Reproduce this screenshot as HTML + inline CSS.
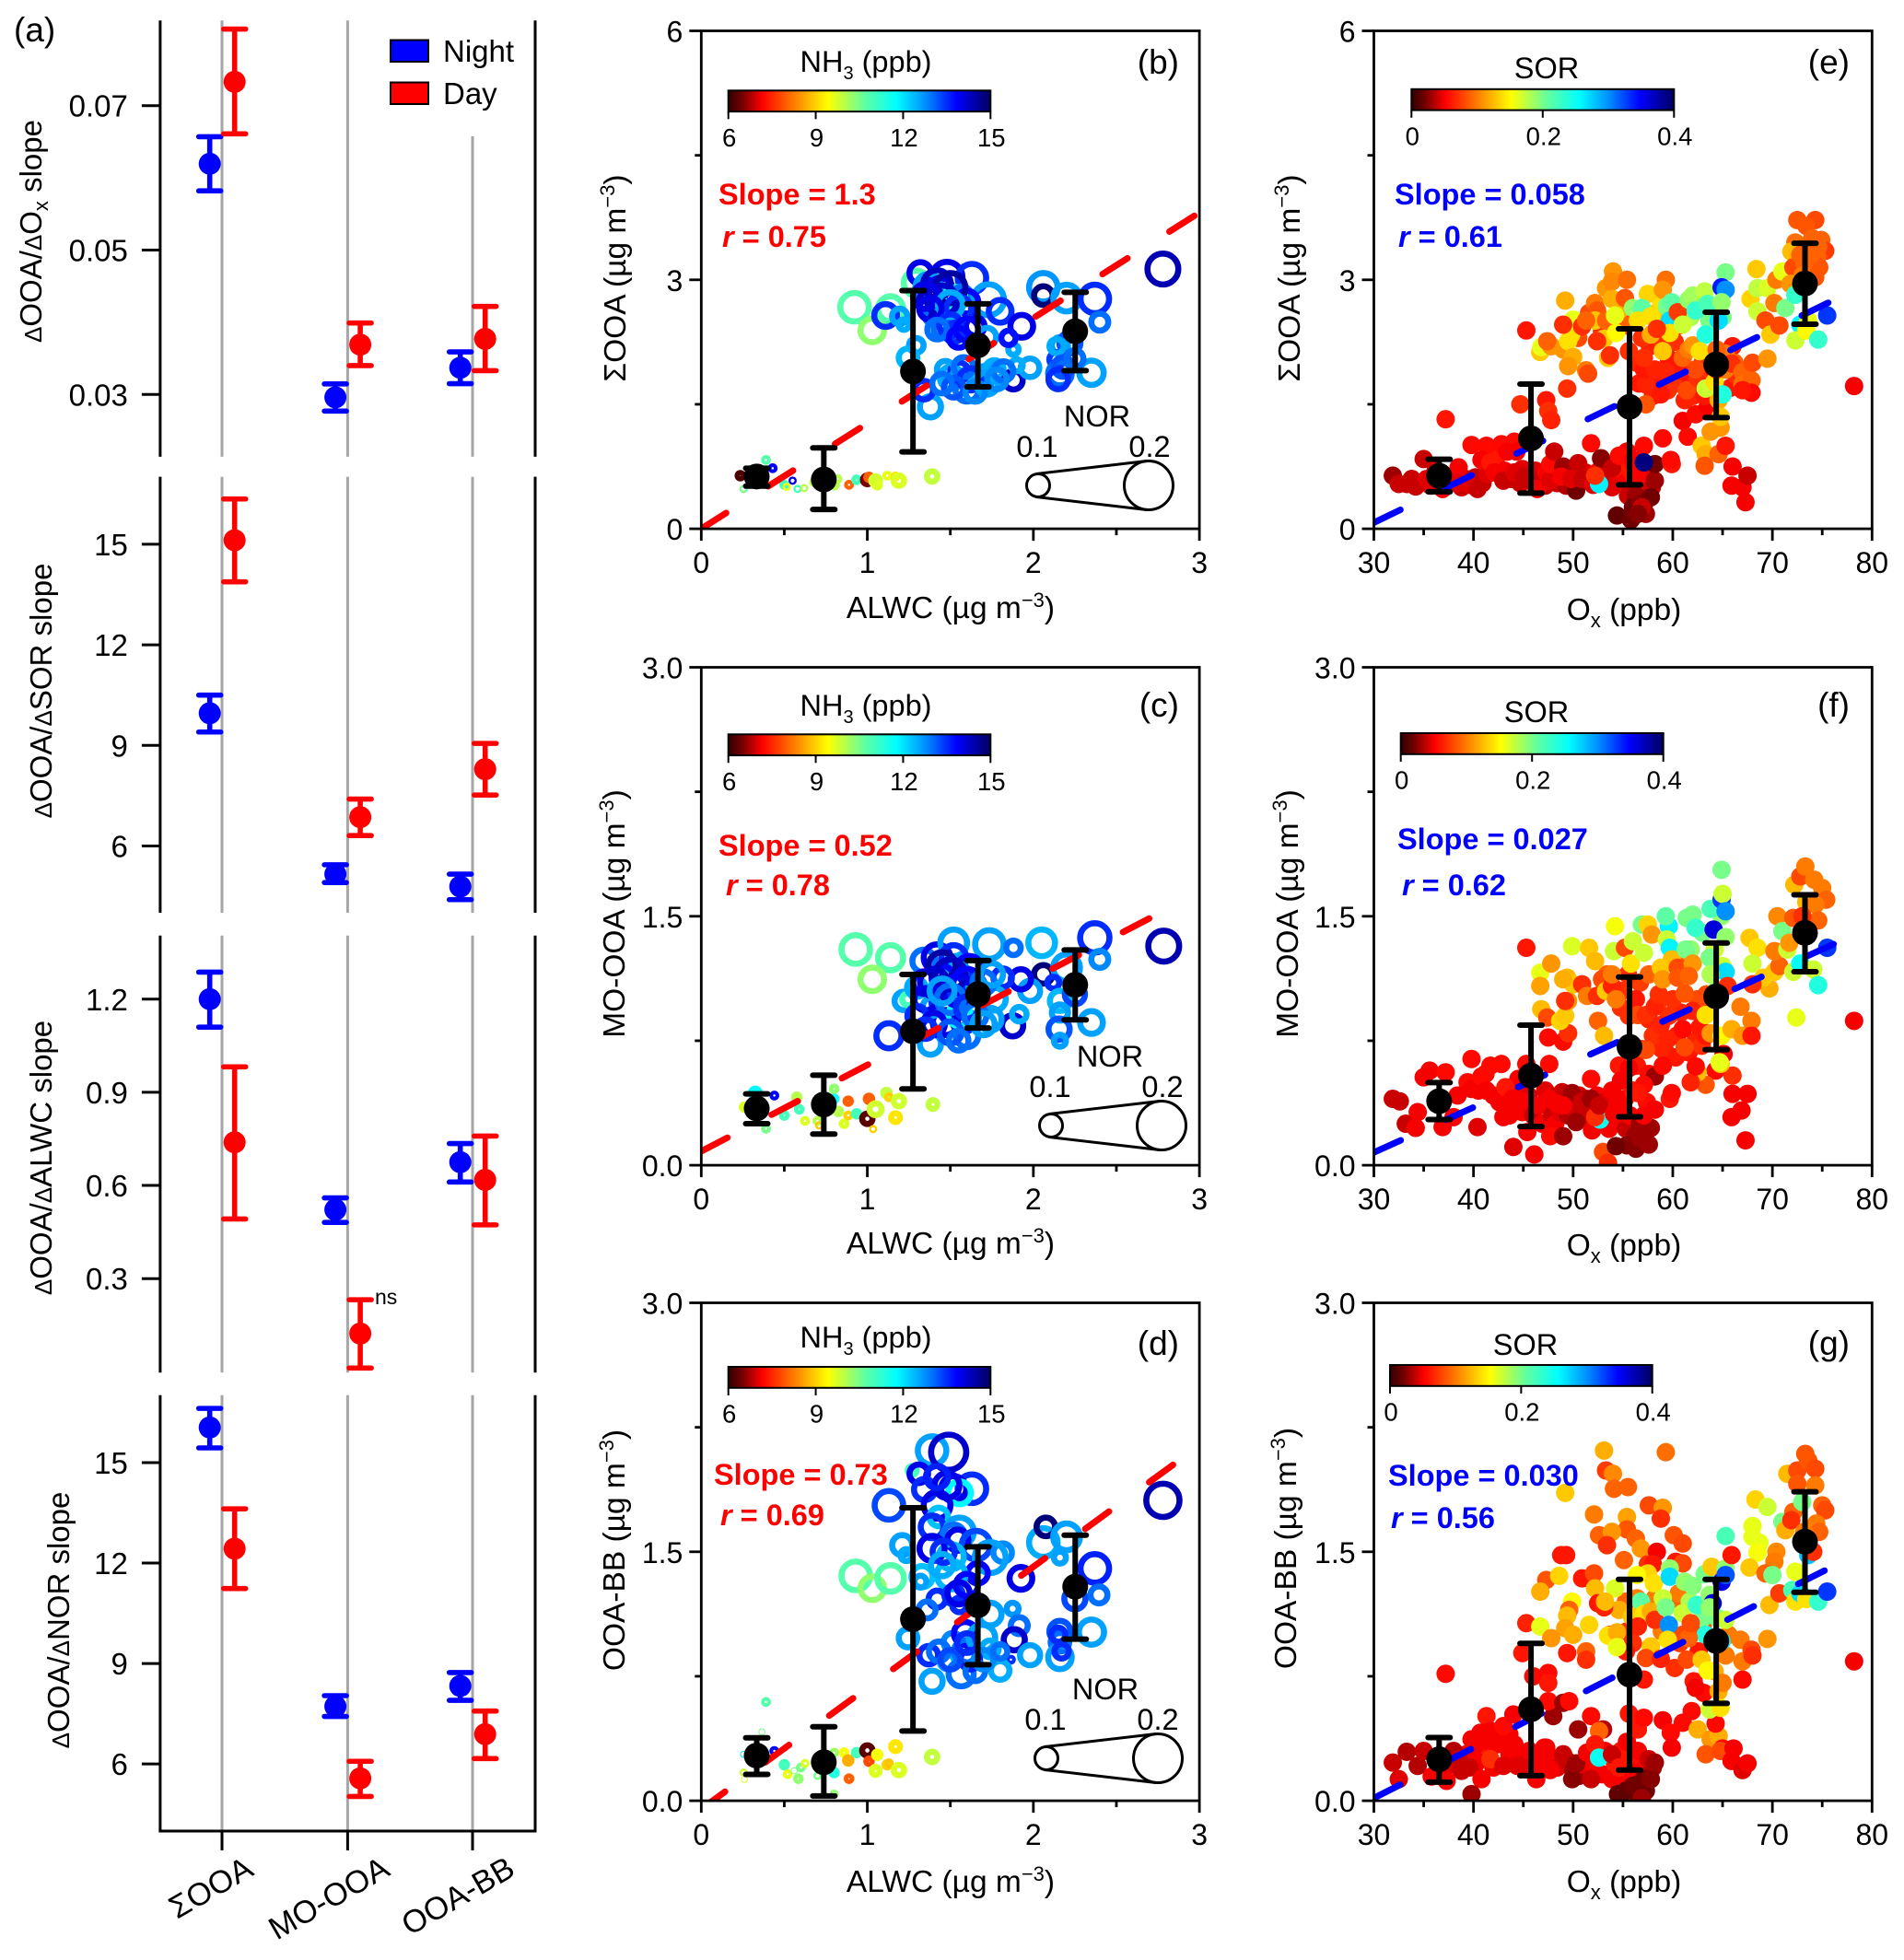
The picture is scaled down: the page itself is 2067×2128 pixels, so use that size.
<!DOCTYPE html>
<html lang="en">
<head>
<meta charset="utf-8">
<title>OOA slopes and scatter panels</title>
<style>
html,body{margin:0;padding:0;background:#fff;}
svg{display:block;font-family:"Liberation Sans",sans-serif;fill:#000;}
.ttl{font-size:32.5px;}
.tag{font-size:37px;text-anchor:end;}
.lab{font-size:32.5px;text-anchor:middle;}
.slope{font-size:32.5px;font-weight:bold;}
.yt{font-size:33.5px;text-anchor:middle;}
.ya{font-size:33px;text-anchor:middle;}
</style>
</head>
<body>
<svg id="fig" xmlns="http://www.w3.org/2000/svg" width="2067" height="2128" viewBox="0 0 2067 2128">
<defs>
<linearGradient id="jetGrad" x1="0" x2="1" y1="0" y2="0">
<stop offset="0" stop-color="#300000"/><stop offset=".05" stop-color="#700000"/><stop offset=".13" stop-color="#ff0000"/><stop offset=".27" stop-color="#ff9000"/><stop offset=".38" stop-color="#ffff00"/><stop offset=".52" stop-color="#60ffa0"/><stop offset=".64" stop-color="#00ffff"/><stop offset=".75" stop-color="#0090ff"/><stop offset=".87" stop-color="#0000ff"/><stop offset="1" stop-color="#000060"/>
</linearGradient>
<clipPath id="clipB"><rect x="761.3" y="33.5" width="540.8" height="540.8"/></clipPath>
<clipPath id="clipC"><rect x="761.3" y="724.5" width="540.8" height="540.4"/></clipPath>
<clipPath id="clipD"><rect x="761.3" y="1414.5" width="540.8" height="540.5"/></clipPath>
<clipPath id="clipE"><rect x="1491.5" y="33.5" width="540.8" height="540.8"/></clipPath>
<clipPath id="clipF"><rect x="1491.5" y="724.5" width="540.8" height="540.4"/></clipPath>
<clipPath id="clipG"><rect x="1491.5" y="1414.5" width="540.8" height="540.5"/></clipPath>
</defs>
<rect x="0" y="0" width="2067" height="2128" fill="#fff"/>

<g id="layerA"></g>
<g id="layerScatter"></g>

<text x="15" y="45" style="font-size:37px">(a)</text>
<rect x="424" y="43.5" width="41" height="23.5" fill="#0000ff" stroke="#000" stroke-width="2"/>
<text x="481" y="67" style="font-size:33px">Night</text>
<rect x="424" y="89.5" width="41" height="23.5" fill="#ff0000" stroke="#000" stroke-width="2"/>
<text x="481" y="113" style="font-size:33px">Day</text>
<text x="407" y="1416" style="font-size:23px">ns</text>

<text transform="translate(45,251) rotate(-90)" class="ya"><tspan font-size="26">Δ</tspan>OOA/<tspan font-size="26">Δ</tspan>O<tspan font-size="22" dy="7">x</tspan><tspan dy="-7"> slope</tspan></text>
<text transform="translate(56,750) rotate(-90)" class="ya"><tspan font-size="26">Δ</tspan>OOA/<tspan font-size="26">Δ</tspan>SOR slope</text>
<text transform="translate(56,1257) rotate(-90)" class="ya"><tspan font-size="26">Δ</tspan>OOA/<tspan font-size="26">Δ</tspan>ALWC slope</text>
<text transform="translate(75,1759) rotate(-90)" class="ya"><tspan font-size="26">Δ</tspan>OOA/<tspan font-size="26">Δ</tspan>NOR slope</text>

<!-- scatter titles -->
<text x="1032" y="671" class="yt">ALWC (µg m<tspan font-size="22" dy="-12">−3</tspan><tspan dy="12">)</tspan></text>
<text x="1032" y="1361" class="yt">ALWC (µg m<tspan font-size="22" dy="-12">−3</tspan><tspan dy="12">)</tspan></text>
<text x="1032" y="2054" class="yt">ALWC (µg m<tspan font-size="22" dy="-12">−3</tspan><tspan dy="12">)</tspan></text>
<text x="1763" y="673" class="yt">O<tspan font-size="22" dy="8">x</tspan><tspan dy="-8"> (ppb)</tspan></text>
<text x="1763" y="1363" class="yt">O<tspan font-size="22" dy="8">x</tspan><tspan dy="-8"> (ppb)</tspan></text>
<text x="1763" y="2054" class="yt">O<tspan font-size="22" dy="8">x</tspan><tspan dy="-8"> (ppb)</tspan></text>

<text transform="translate(679,302) rotate(-90)" class="yt">ΣOOA (µg m<tspan font-size="22" dy="-12">−3</tspan><tspan dy="12">)</tspan></text>
<text transform="translate(678,992) rotate(-90)" class="yt">MO-OOA (µg m<tspan font-size="22" dy="-12">−3</tspan><tspan dy="12">)</tspan></text>
<text transform="translate(678,1683) rotate(-90)" class="yt">OOA-BB (µg m<tspan font-size="22" dy="-12">−3</tspan><tspan dy="12">)</tspan></text>
<text transform="translate(1411,302) rotate(-90)" class="yt">ΣOOA (µg m<tspan font-size="22" dy="-12">−3</tspan><tspan dy="12">)</tspan></text>
<text transform="translate(1409,992) rotate(-90)" class="yt">MO-OOA (µg m<tspan font-size="22" dy="-12">−3</tspan><tspan dy="12">)</tspan></text>
<text transform="translate(1407,1681) rotate(-90)" class="yt">OOA-BB (µg m<tspan font-size="22" dy="-12">−3</tspan><tspan dy="12">)</tspan></text>

<!-- panel tags -->
<text x="1280" y="80" class="tag">(b)</text>
<text x="1280" y="778" class="tag">(c)</text>
<text x="1280" y="1471" class="tag">(d)</text>
<text x="2008" y="80" class="tag">(e)</text>
<text x="2008" y="778" class="tag">(f)</text>
<text x="2008" y="1471" class="tag">(g)</text>

<!-- colour bar titles -->
<text x="940" y="78" class="lab">NH<tspan font-size="20" dy="8">3</tspan><tspan dy="-8"> (ppb)</tspan></text>
<text x="940" y="777" class="lab">NH<tspan font-size="20" dy="8">3</tspan><tspan dy="-8"> (ppb)</tspan></text>
<text x="940" y="1463" class="lab">NH<tspan font-size="20" dy="8">3</tspan><tspan dy="-8"> (ppb)</tspan></text>
<text x="1679" y="85" class="lab">SOR</text>
<text x="1668" y="784" class="lab">SOR</text>
<text x="1656" y="1471" class="lab">SOR</text>

<!-- annotations -->
<text x="780" y="222" class="slope" style="fill:#ff0000">Slope = 1.3</text>
<text x="784" y="268" class="slope" style="fill:#ff0000"><tspan font-style="italic">r</tspan> = 0.75</text>
<text x="780" y="929" class="slope" style="fill:#ff0000">Slope = 0.52</text>
<text x="788" y="972" class="slope" style="fill:#ff0000"><tspan font-style="italic">r</tspan> = 0.78</text>
<text x="775" y="1612" class="slope" style="fill:#ff0000">Slope = 0.73</text>
<text x="782" y="1656" class="slope" style="fill:#ff0000"><tspan font-style="italic">r</tspan> = 0.69</text>
<text x="1514" y="222" class="slope" style="fill:#0000ff">Slope = 0.058</text>
<text x="1518" y="268" class="slope" style="fill:#0000ff"><tspan font-style="italic">r</tspan> = 0.61</text>
<text x="1517" y="922" class="slope" style="fill:#0000ff">Slope = 0.027</text>
<text x="1522" y="972" class="slope" style="fill:#0000ff"><tspan font-style="italic">r</tspan> = 0.62</text>
<text x="1507" y="1613" class="slope" style="fill:#0000ff">Slope = 0.030</text>
<text x="1510" y="1659" class="slope" style="fill:#0000ff"><tspan font-style="italic">r</tspan> = 0.56</text>

<!-- NOR size keys -->
<g fill="none" stroke="#000" stroke-width="3">
<circle cx="1127" cy="527" r="12.5"/><circle cx="1247" cy="527" r="26.5"/><line x1="1125" y1="514.5" x2="1245" y2="500.5"/><line x1="1125" y1="539.5" x2="1245" y2="553.5"/>
</g>
<text x="1191" y="463" class="ttl" text-anchor="middle">NOR</text>
<text x="1126" y="496" class="ttl" text-anchor="middle">0.1</text>
<text x="1248" y="496" class="ttl" text-anchor="middle">0.2</text>

<g fill="none" stroke="#000" stroke-width="3">
<circle cx="1141" cy="1222" r="12.5"/><circle cx="1261" cy="1222" r="26.5"/><line x1="1139" y1="1209.5" x2="1259" y2="1195.5"/><line x1="1139" y1="1234.5" x2="1259" y2="1248.5"/>
</g>
<text x="1205" y="1158" class="ttl" text-anchor="middle">NOR</text>
<text x="1140" y="1191" class="ttl" text-anchor="middle">0.1</text>
<text x="1262" y="1191" class="ttl" text-anchor="middle">0.2</text>

<g fill="none" stroke="#000" stroke-width="3">
<circle cx="1136" cy="1909" r="12.5"/><circle cx="1257" cy="1909" r="26.5"/><line x1="1134" y1="1896.5" x2="1255" y2="1882.5"/><line x1="1134" y1="1921.5" x2="1255" y2="1935.5"/>
</g>
<text x="1200" y="1845" class="ttl" text-anchor="middle">NOR</text>
<text x="1135" y="1878" class="ttl" text-anchor="middle">0.1</text>
<text x="1257" y="1878" class="ttl" text-anchor="middle">0.2</text>
</svg>

<script>
/* ---------- panel (a) values ---------- */
const slopeCategories = ['ΣOOA', 'MO-OOA', 'OOA-BB'];
const a1TickLabels = ['0.03', '0.05', '0.07'];
const a2TickLabels = ['6', '9', '12', '15'];
const a3TickLabels = ['0.3', '0.6', '0.9', '1.2'];
const a4TickLabels = ['6', '9', '12', '15'];

const a1Night = [0.06195, 0.0296, 0.0337];
const a1NightHi = [0.0657, 0.03146, 0.0359];
const a1NightLo = [0.0582, 0.0277, 0.0315];
const a1Day = [0.0733, 0.0369, 0.0377];
const a1DayHi = [0.0806, 0.0399, 0.0422];
const a1DayLo = [0.0661, 0.034, 0.0333];

const a2Night = [9.96, 5.16, 4.79];
const a2NightHi = [10.5, 5.44, 5.16];
const a2NightLo = [9.4, 4.91, 4.4];
const a2Day = [15.12, 6.86, 8.29];
const a2DayHi = [16.35, 7.4, 9.06];
const a2DayLo = [13.88, 6.31, 7.52];

const a3Night = [1.2, 0.522, 0.675];
const a3NightHi = [1.287, 0.56, 0.735];
const a3NightLo = [1.11, 0.481, 0.611];
const a3Day = [0.739, 0.123, 0.618];
const a3DayHi = [0.982, 0.232, 0.759];
const a3DayLo = [0.492, 0.012, 0.473];

const a4Night = [16.05, 7.72, 8.33];
const a4NightHi = [16.62, 8.04, 8.73];
const a4NightLo = [15.44, 7.42, 7.9];
const a4Day = [12.43, 5.57, 6.89];
const a4DayHi = [13.62, 6.08, 7.58];
const a4DayLo = [11.24, 5.03, 6.16];

/* ---------- binned means ---------- */
const alwcBins = [0.334, 0.738, 1.275, 1.666, 2.252];
const bMean = [0.63, 0.594, 1.896, 2.21, 2.38];
const bHi = [0.73, 0.975, 2.87, 2.71, 2.85];
const bLo = [0.515, 0.233, 0.926, 1.71, 1.906];
const cMean = [0.342, 0.366, 0.807, 1.03, 1.087];
const cHi = [0.43, 0.542, 1.149, 1.233, 1.297];
const cLo = [0.25, 0.188, 0.46, 0.827, 0.876];
const dMean = [0.272, 0.232, 1.094, 1.178, 1.29];
const dHi = [0.379, 0.446, 1.765, 1.53, 1.6];
const dLo = [0.159, 0.029, 0.42, 0.82, 0.974];

const oxBins = [36.55, 45.77, 55.66, 64.36, 73.27];
const eMean = [0.639, 1.089, 1.47, 1.98, 2.955];
const eHi = [0.837, 1.743, 2.41, 2.61, 3.44];
const eLo = [0.446, 0.43, 0.53, 1.34, 2.465];
const fMean = [0.386, 0.54, 0.713, 1.017, 1.4];
const fHi = [0.498, 0.844, 1.134, 1.339, 1.629];
const fLo = [0.275, 0.233, 0.292, 0.696, 1.166];
const gMean = [0.25, 0.551, 0.76, 0.963, 1.561];
const gHi = [0.381, 0.948, 1.334, 1.334, 1.862];
const gLo = [0.112, 0.151, 0.185, 0.587, 1.256];

/* ---------- trend fits: intercept, slope, x end ---------- */
const bTrend = [0, 1.27, 3];
const cTrend = [0.084, 0.52, 2.77];
const dTrend = [-0.05, 0.73, 2.91];
const eTrend = [-1.669, 0.0581, 76.9];
const fTrend = [-0.739, 0.0272, 77.5];
const gTrend = [-0.893, 0.0303, 76.5];

/* ---------- scatter: ALWC, OOA, NH3, NOR ---------- */
const bPoints = [
[.235,.64,6.2,.056],[.43,.73,13.8,.05],[.39,.83,10.8,.05],[.255,.48,10.5,.044],[.305,.65,12.6,.06],[.50,.53,11,.05],[.55,.58,14,.044],[.58,.48,11,.044],[.62,.49,10,.044],[.515,.505,9.5,.044],[.80,.53,10,.056],[.89,.53,8,.05],[.935,.59,11,.053],[1.0,.59,6.5,.069],[1.01,.62,8,.056],[1.05,.58,9.8,.069],[1.06,.53,9.7,.056],[1.12,.64,9.6,.05],[1.17,.63,9.2,.05],[1.19,.58,9.7,.075],[1.39,.63,9.9,.075],[.82,.60,10,.05],[.68,.56,10,.05],
[.923,2.67,10.8,.144],[1.03,2.39,10.3,.125],[1.14,2.65,10.8,.131],[1.11,2.57,13.5,.122],[1.195,2.56,12.6,.094],[1.22,2.46,12.5,.075],[1.295,2.96,10.8,.131],[1.32,3.08,14,.119],[1.48,3.03,14,.153],[1.63,3.02,13.5,.144],[1.37,2.91,12.6,.137],[1.39,2.73,14.3,.137],[1.44,2.86,14,.137],[1.53,2.78,11.5,.122],[1.57,2.81,13,.106],[1.73,2.76,12.6,.153],[1.80,2.62,13.5,.122],[1.60,2.73,13.8,.122],[1.455,2.41,13,.106],[1.52,2.36,13.5,.106],[1.39,2.56,13,.091],[1.65,2.44,14,.106],[1.93,2.44,14,.122],[1.88,2.16,12.5,.075],[1.72,2.31,12.6,.106],[1.295,2.21,12.6,.091],[1.245,2.06,12.4,.106],[1.38,1.47,12.6,.116],[1.34,1.67,13.5,.106],[1.505,1.82,12.5,.122],[1.60,1.67,13,.122],[1.555,1.89,13.5,.106],[1.47,1.92,12.6,.1],[1.69,1.82,12.6,.122],[1.74,1.82,12.6,.137],[1.765,1.92,12.5,.106],[1.88,1.79,14.2,.106],[1.98,1.94,12.6,.106],[1.90,1.97,12.5,.081],[2.06,2.91,12.7,.144],[2.06,2.81,14.8,.106],[2.20,2.78,12.6,.137],[2.37,2.77,13.5,.144],[2.40,2.49,13,.1],[2.16,2.21,12.6,.097],[2.22,2.24,13.2,.116],[2.14,2.04,13.4,.091],[2.16,1.87,13,.125],[2.35,1.88,12.6,.128],[2.78,3.13,14.4,.153],
[1.42,2.95,14.3,.14],[1.5,2.9,14.5,.15],[1.45,2.75,14.2,.15],[1.35,2.8,14,.13],[1.55,2.65,13.5,.13],[1.5,2.7,12.5,.13],[1.38,2.65,14,.12],[1.5,2.45,13.5,.12],[1.6,2.4,13.8,.12],[1.42,2.4,13,.11],[1.55,2.3,13.8,.11],[1.58,1.95,13,.11],[1.62,1.8,13.5,.12],[1.52,1.7,13.2,.11],[1.72,1.75,12.6,.12],[1.82,1.9,13,.11],[1.78,1.8,12.8,.11],[1.45,1.75,13,.11],[1.65,1.65,12.8,.11],[1.85,2.3,13.7,.09],[2.14,2.2,12.5,.09],[2.18,1.95,13.2,.11],[2.15,1.8,13.5,.11],[2.25,2.05,13,.1]
];
const cPoints = [
[.325,.435,11.8,.069],[.26,.35,9.7,.056],[.44,.42,13.8,.05],[.39,.22,10.5,.05],[.50,.30,11,.053],[.575,.41,10,.056],[.59,.337,11,.053],[.625,.267,9.7,.05],[.70,.267,10,.05],[.80,.46,10.3,.053],[.80,.40,11.7,.053],[.825,.324,10,.056],[.885,.386,8,.056],[.86,.25,9.7,.053],[.71,.24,8.9,.044],[.885,.30,9,.05],[.935,.31,11,.056],[1.01,.40,8,.06],[1.0,.28,6.3,.075],[1.05,.337,9.8,.081],[1.035,.218,9,.044],[1.115,.435,9.9,.06],[1.13,.41,9,.05],[1.19,.386,9.8,.075],[1.17,.287,9.2,.069],[1.395,.366,9.9,.069],
[.93,1.30,10.8,.144],[1.14,1.25,10.8,.131],[1.03,1.12,10.3,.125],[1.13,.78,13.5,.131],[1.38,.73,12.6,.116],[1.34,1.23,13,.122],[1.42,1.25,14,.137],[1.52,1.34,12.6,.137],[1.52,1.25,13.5,.131],[1.735,1.33,12.6,.144],[1.88,1.31,13,.091],[2.05,1.34,12.4,.137],[2.37,1.37,13.5,.147],[2.40,1.24,12.8,.1],[2.785,1.32,14.4,.153],[2.06,1.15,14.8,.106],[2.20,1.19,12.6,.137],[2.12,1.10,13.5,.081],[2.16,.99,12.4,.112],[2.25,1.03,13.3,.112],[2.16,.92,12.6,.097],[2.155,.82,13.2,.116],[2.16,.75,12.6,.081],[2.35,.86,12.6,.122],[1.875,.84,14.2,.116],[1.915,.91,12.5,.091],[1.98,1.05,12.6,.112],[1.925,1.12,14,.112],[1.815,1.13,13.5,.106],[1.765,1.00,12.5,.122],[1.74,.88,12.6,.122],[1.60,.78,13,.122],[1.58,.87,13.6,.122],[1.505,.94,12.6,.131],[1.47,.86,14,.131],[1.455,.98,13.5,.122],[1.22,.99,12.6,.106],[1.245,1.0,11,.081],[1.295,1.07,12.5,.106],[1.39,.955,12.6,.106],[1.345,1.10,14,.122],[1.52,1.08,14.5,.153],[1.545,1.14,12.6,.131],[1.615,1.18,13.8,.137],[1.64,1.08,13.5,.122],[1.455,1.13,13.8,.122],[1.555,.905,11.8,.122],
[1.45,1.2,14.5,.14],[1.5,1.15,14.3,.15],[1.55,1.05,14,.15],[1.4,1.1,14.2,.14],[1.35,1.0,14,.12],[1.6,1.1,13.8,.14],[1.5,1.0,13,.14],[1.45,1.05,12.6,.13],[1.7,1.1,13,.12],[1.75,1.15,12.6,.12],[1.6,.95,13.5,.12],[1.3,.9,13.5,.11],[1.4,.85,14,.12],[1.65,.9,13,.12],[1.7,.85,12.6,.12],[1.5,.8,13.2,.12],[1.55,.75,13,.11],[1.35,.82,13.5,.11]
];
const dPoints = [
[.39,.595,10.8,.05],[.365,.415,10.5,.0375],[.255,.28,12,.0375],[.44,.30,13.8,.05],[.255,.17,9.8,.044],[.26,.128,9.7,.0375],[.50,.217,11,.056],[.52,.16,9.6,.05],[.585,.133,10.3,.053],[.60,.20,10.5,.05],[.625,.225,9.7,.047],[.56,.18,10.5,.0375],[.70,.15,10.5,.044],[.80,.29,10.2,.05],[.80,.17,11.4,.056],[.80,.04,10.3,.047],[.86,.29,9.5,.053],[.885,.243,8.7,.06],[.89,.133,8,.053],[.935,.29,11,.056],[1.0,.303,6.3,.075],[1.01,.238,7.8,.056],[1.06,.277,9.5,.06],[1.05,.18,9.7,.066],[1.12,.217,9,.056],[1.13,.226,8.9,.05],[1.17,.326,9.2,.069],[1.19,.185,9.7,.075],[1.39,.264,9.9,.075],
[1.39,2.11,12.6,.144],[1.49,2.10,14.2,.169],[1.27,1.99,11,.069],[1.31,1.97,14,.106],[1.345,1.875,13.5,.116],[1.13,1.78,13.3,.144],[1.63,1.88,13.5,.144],[1.52,1.88,14,.131],[1.555,1.855,11.8,.122],[1.42,1.78,14,.137],[1.43,1.71,12.3,.106],[1.39,1.65,13.5,.122],[1.555,1.62,12.6,.144],[1.52,1.595,13,.122],[1.545,1.57,14,.116],[1.655,1.54,13.3,.144],[1.505,1.47,12.4,.131],[1.39,1.52,14,.131],[1.815,1.495,12.8,.106],[1.74,1.465,12.6,.153],[1.21,1.54,12.6,.112],[1.235,1.48,12.5,.081],[1.665,1.37,13.8,.112],[1.505,1.36,12.4,.144],[1.33,1.35,12.3,.116],[1.32,1.32,12.6,.081],[.93,1.355,10.8,.144],[1.03,1.28,10.3,.125],[1.14,1.34,10.8,.137],[1.42,1.215,13.5,.1],[1.52,1.24,13.5,.106],[1.555,1.18,13.5,.091],[1.925,1.34,14,.122],[2.06,1.556,12.5,.144],[2.075,1.65,14.8,.106],[2.20,1.59,12.6,.137],[2.16,1.465,12.6,.081],[2.37,1.40,13.6,.144],[2.25,1.217,13.3,.116],[2.395,1.24,13,.1],[1.875,1.157,12.7,.081],[1.915,1.055,13,.1],[1.885,.97,14.2,.116],[1.865,.85,13.5,.05],[1.98,.877,12.6,.112],[2.16,1.02,13.2,.116],[2.16,.955,13,.106],[2.16,.864,12.6,.125],[2.35,1.016,12.6,.131],[2.78,1.81,14.4,.162],[1.245,.98,12.6,.106],[1.37,.877,13.5,.106],[1.39,.72,12.6,.116],[1.48,.838,12.5,.091],[1.565,.765,13,.131],[1.515,.955,12.8,.106],[1.59,1.008,13.8,.122],[1.59,.90,13,.122],[1.74,1.125,12.6,.122],[1.69,.98,12.6,.137],[1.74,.915,12.5,.1],[1.80,.785,12.5,.106],
[1.36,1.15,13,.1],[1.43,.9,13,.11],[1.62,.85,13.6,.11],[1.65,.78,13,.11],[1.5,.85,13.3,.11],[1.7,.85,12.8,.11],[1.6,.95,13.5,.11],[1.46,1.5,13.5,.12],[1.45,1.42,12.5,.12],[1.6,1.3,13.8,.12],[1.55,1.25,14,.12],[1.48,1.9,14,.13],[1.42,1.95,13.6,.12],[2.17,.9,13.5,.09],[2.15,1,13.5,.09],[1.8,.9,13,.09]
];

/* ---------- scatter: Ox, OOA, SOR ---------- */
const ePoints = [
[33.8,.6,.04],[34.8,.56,.04],[35.7,.52,.045],[36.2,.7,.05],[37.7,.62,.05],[38.8,.5,.04],[39.2,.6,.035],[40.2,.62,.04],[40.9,.55,.04],[41.4,.66,.045],[41.6,.92,.055],[42.5,.72,.05],[42.4,.88,.06],[43.1,.7,.05],[43.8,.6,.04],[44.7,.55,.04],[44.9,.72,.045],[45.6,.58,.04],[46.2,.7,.045],[46.8,.6,.04],[47.2,.52,.04],[47.3,.68,.05],[48.4,.55,.04],[48.9,.72,.04],[49.3,.52,.035],[49.9,.7,.04],[50.6,.56,.03],[51.2,.68,.045],[52.6,.7,.05],[53.2,.6,.04],[53.5,.76,.04],[54.5,.62,.05],[54.9,.72,.06],[55.2,.55,.05],[55.9,.68,.06],[56.2,.76,.055],[56.8,.5,.05],[57.5,.62,.045],[57.9,.5,.04],[55.5,.4,.04],[56.3,.4,.03],[57.2,.32,.03],
[31.9,.64,.03],[32.5,.54,.04],[33.3,.54,.04],[34.2,.51,.04],[35,.84,.04],[35.3,.6,.045],[38.5,.74,.05],[37.2,1.32,.06],[36.9,.48,.05],[38.3,.55,.045],[39.8,1.01,.055],[39.6,.53,.045],[40.4,.48,.04],[41.3,1.0,.055],[40.8,.83,.05],[41.7,.8,.06],[42.1,.68,.05],[43,.58,.04],[42.8,1.02,.055],[44.1,1.05,.055],[43.4,.93,.05],[44.3,.93,.05],[44.1,.68,.045],[45.1,.63,.04],[46.4,.48,.05],[47.7,.58,.045],[47.7,.78,.055],[48.1,.93,.04],[49,.75,.03],[48.8,.63,.05],[50.3,.46,.02],[50.5,.79,.04],[49.8,.6,.045],[50.9,.6,.04],[52,.53,.045],[51.8,1.03,.055],[52.8,.85,.025],[53.9,.73,.04],[53.9,.5,.045],[52.6,.54,.26],[52.2,.64,.07],[55.4,.93,.05],[54.6,.88,.055],[56,.83,.05],[57.1,1.0,.055],[56.5,.63,.05],[58.2,.58,.03],[58.2,.78,.02],[59,1.09,.055],[59.9,.78,.06],[59.8,.83,.055],[57.1,.8,.39],[54.4,.16,.015],[55.8,.11,.02],[56,.26,.02],[56.7,.3,.025],[57.8,.38,.02],[57.3,.18,.03],[56.9,.26,.04],[56.5,.18,.025],
[61,1.3,.05],[62.3,1.38,.055],[61.5,1.11,.055],[62.9,1.0,.13],[63.3,.9,.12],[63.2,.76,.085],[63.8,1.17,.11],[64.6,.9,.09],[65.3,1.0,.06],[64.8,1.22,.11],[63.5,1.47,.05],[66,.75,.05],[65.9,.52,.05],[67,.5,.05],[67.5,.64,.04],[67.3,.32,.05],
[56.4,2.0,.065],[56.6,1.75,.06],[57.7,2.2,.065],[58.5,1.78,.06],[58,1.6,.065],[59.6,2.05,.06],[60,1.85,.065],[60.5,1.75,.07],[60.8,1.9,.06],[61.2,1.55,.065],[61.8,1.75,.06],[62,1.6,.065],[62.8,1.7,.065],[63,2.0,.07],[63.4,1.85,.06],[63.2,1.6,.06],[65.8,1.7,.06],[66.4,1.85,.07],[66,2.2,.06],[58.9,2.25,.07],[60.2,2.25,.07],[60.6,2.45,.06],[55.8,2.5,.07],[56.9,2.3,.07],[55.2,2.45,.09],[52.9,2.38,.07],[50.5,2.3,.08],[51.6,2.6,.08],[54.8,2.65,.12],[58.3,2.6,.13],[58.8,2.75,.14],[60.9,2.68,.2],[63.7,2.5,.2],[65,2.55,.2],[61.8,2.55,.18],[66.2,2.0,.09],[64.6,1.55,.12],
[45.3,2.39,.06],[44.7,1.5,.07],[47.3,1.55,.06],[47.5,1.42,.07],[47.8,1.31,.065],[49.4,1.69,.07],[46.7,2.13,.13],[46.8,2.19,.16],[47.8,2.2,.11],[47.4,2.26,.09],[49,2.16,.11],[49.5,2.26,.14],[49.8,2.34,.14],[50,2.07,.12],[49.5,1.96,.11],[51.3,1.91,.1],[51.5,1.87,.08],[49.2,2.75,.12],[50,2.52,.16],[49,2.46,.07],[50.9,2.44,.07],[52.2,2.72,.1],[52.4,2.63,.085],[52.2,2.51,.13],[51.3,2.51,.09],[53.3,2.9,.11],[54,3.1,.11],[53.9,2.98,.105],[53.9,2.77,.12],[53.3,2.51,.09],[53.1,2.29,.13],[52.4,2.26,.07],[53.5,2.06,.13],[53.7,2.09,.07],[54.2,2.57,.16],[55.4,3.0,.095],[55.2,2.78,.085],[54.3,2.36,.15],[55.6,2.14,.07],[56,2.66,.19],[57.5,2.83,.135],[56.9,2.66,.21],[57.8,2.56,.14],[56.5,2.51,.14],[57.8,2.34,.12],[59.3,3.0,.095],[59,2.88,.11],[59.4,2.68,.2],[59.9,2.73,.21],[59.7,2.51,.27],[59.7,2.36,.14],[59,2.14,.13],[58.4,2.41,.07],[57.3,1.74,.065],[57.1,1.92,.06],[58.2,1.92,.065],[59.3,1.89,.065],[59.5,1.67,.07],[58.8,1.62,.06],[57.3,1.5,.085],[57.1,2.06,.07],[61.4,1.67,.08],[61,2.06,.09],[61.6,2.16,.1],[62,2.21,.11],[60.5,2.61,.075],[61,2.46,.17],[61.6,2.76,.19],[62,2.81,.185],[63.2,2.86,.175],[62.3,2.63,.23],[63.5,2.71,.22],[63.3,2.34,.24],[64.6,2.51,.27],[65.3,3.09,.2],[64.9,2.91,.34],[65.3,2.88,.3],[64.9,2.73,.19],[62.5,1.82,.07],[62.3,1.92,.08],[63.3,1.69,.17],[62.7,2.14,.14],[64.2,1.77,.14],[65,1.62,.24],[64.8,1.35,.13],[65.3,2.11,.1],[65.3,1.92,.1],[65.9,1.99,.07],[67,1.89,.09],[67,1.74,.095],[67.9,1.79,.09],[68,2.0,.08],[67.9,1.64,.055],[67,1.67,.06],[64.4,2.16,.09],[64.4,1.92,.065],
[68.4,3.13,.13],[67.8,2.77,.135],[68.5,2.9,.175],[68.5,2.62,.17],[69.5,2.9,.165],[70.2,2.72,.1],[69.3,2.51,.08],[69.8,2.34,.13],[69.5,2.05,.11],[70.7,2.45,.08],[70.4,3.0,.1],[71.3,2.66,.2],[71,3.1,.16],[72.5,3.72,.085],[74.3,3.72,.08],[73.4,3.65,.085],[72.3,3.45,.095],[71.9,3.34,.125],[73.6,3.4,.09],[74.9,3.48,.09],[75.3,3.35,.075],[74.5,3.28,.09],[72.1,3.15,.08],[74.7,3.15,.085],[73.2,3.2,.09],[74.3,3.03,.085],[73.8,3.3,.09],[72.8,3.3,.09],[74,3.5,.09],[74.6,3.4,.09],[73,3.05,.1],[71.8,2.95,.11],[72.3,2.82,.23],[72.8,2.46,.26],[72.3,2.27,.17],[73.6,2.51,.16],[73.4,2.39,.15],[75.5,2.57,.33],[74.6,2.28,.23],[78.2,1.72,.05]
];
const fPoints = [
[43.6,.3,.05],[44.2,.42,.05],[44.9,.32,.05],[45.5,.42,.045],[46,.3,.04],[46.6,.36,.05],[46.9,.25,.05],[47.2,.45,.045],[47.9,.3,.04],[48.2,.25,.05],[48.7,.32,.045],[48.9,.44,.04],[49.5,.3,.035],[49.8,.38,.04],[50.2,.32,.04],[50.6,.42,.045],[51,.3,.04],[51.3,.4,.035],[51.6,.32,.04],[52.4,.42,.05],[53,.38,.045],[53.4,.3,.04],[53.6,.22,.05],[54.4,.36,.05],[54.8,.28,.05],[55.2,.4,.05],[55.3,.22,.04],[55.7,.3,.05],[56,.45,.06],[56.2,.18,.03],[56.7,.25,.03],[57.2,.2,.03],[57.4,.38,.055],[57.1,.14,.03],[55.4,.12,.025],[42,.42,.05],[42.6,.38,.05],[41.2,.55,.055],[40.5,.45,.05],[39.4,.5,.055],[38.4,.42,.05],[44.5,.52,.05],[54.6,.6,.06],[55.4,.72,.055],[56.4,.6,.06],[57.6,.55,.055],[56.9,.7,.07],[59.3,.68,.06],[60.4,.78,.065],[60.3,.65,.06],[60.8,.92,.065],[61.6,.68,.06],[62.3,.75,.065],[62.9,.72,.07],[63.3,.78,.06],[63,.98,.08],[58.5,.98,.075],[59.6,.9,.07],[60,1,.07],[57.6,.88,.065],[58.9,.7,.065],[62.5,1,.08],[63.4,1.03,.08],[55.6,.9,.07],[54.8,.95,.07],[54.9,1.05,.07],[56.7,1.1,.075],[53.4,1.15,.09],[52.9,1.12,.08],[55.5,1.15,.07],[57.6,1.15,.09],[60.8,1.25,.09],[61.8,1.3,.19],[63,1.4,.2],[64.2,1.3,.17],[64.3,1.05,.19],[65,1.2,.17],[64.9,1.5,.19],
[31.9,.40,.04],[32.6,.385,.04],[33.2,.25,.04],[34.2,.225,.05],[34.4,.32,.05],[35,.53,.05],[35.6,.57,.05],[37.2,.56,.055],[36.9,.23,.05],[38,.29,.05],[39.8,.64,.055],[39.8,.46,.05],[40.4,.23,.045],[40.8,.535,.055],[41.3,.45,.05],[41.7,.6,.055],[42.8,.61,.055],[43.2,.47,.06],[43,.29,.05],[43.9,.4,.05],[44,.11,.045],[44.7,.39,.05],[45.3,.61,.055],[45.4,.2,.05],[46.1,.065,.05],[47.6,.61,.055],[47.5,.77,.055],[49,.745,.055],[49.5,.795,.07],[47.6,.4,.05],[47.7,.175,.055],[49,.175,.03],[48.4,.37,.05],[49.9,.435,.03],[49,.36,.05],[50.3,.26,.03],[50.9,.385,.04],[51.8,.4,.03],[51.8,.52,.055],[51.9,.21,.05],[52.7,.275,.25],[52.2,.29,.07],[53,.08,.08],[53.5,.015,.07],[53.9,.45,.05],[52.6,.36,.04],[54.3,.115,.02],[56.3,.1,.025],[57.6,.125,.03],[56.7,.165,.03],[57.8,.225,.03],[58.2,.335,.05],[58.2,.535,.03],[59,.6,.055],[59.7,.4,.06],[59.9,.435,.055],[57.1,.485,.055],[54.8,.51,.05],[55.6,.585,.05],[56.5,.435,.06],[54.1,.31,.05],[57.1,.3,.05],[67.3,.15,.05],[65.9,.29,.05],[66.9,.33,.05],[66,.43,.05],[67.5,.43,.05],[66,.54,.07],[64.3,.57,.055],[65.1,.67,.05],[64.8,.61,.13],[63.3,.485,.085],[62.5,.56,.125],[61.8,.5,.065],[62.3,.595,.055],
[45.3,1.31,.06],[46.7,1.16,.16],[46.7,1.08,.115],[47.8,1.215,.11],[46.8,.94,.125],[47.4,.89,.08],[48.7,.87,.135],[49.2,.9,.13],[49.5,.99,.11],[49.4,1.13,.125],[50,1.09,.13],[49,1.12,.12],[49.2,.99,.07],[49.9,1.32,.165],[50.9,1.09,.07],[51.4,1.02,.1],[51.6,1.31,.13],[52.2,1.23,.125],[52.4,1.02,.07],[52.5,.87,.09],[53.1,.78,.125],[53.3,1.05,.13],[53.9,1.08,.065],[54.2,1.44,.155],[54.1,1.29,.17],[53.9,1.15,.1],[54.3,1,.1],[55.2,1.31,.08],[56,1.35,.17],[55.8,1.215,.14],[56.9,1.45,.2],[57.5,1.45,.135],[57.9,1.39,.11],[57.1,1.28,.17],[56.3,1,.06],[56.5,.905,.08],[57.3,.905,.07],[58.2,.955,.065],[58,.78,.07],[58.8,.845,.065],[57.3,.695,.08],[59.5,.76,.065],[58.6,1.03,.07],[59.6,1.44,.26],[59.3,1.5,.21],[59.4,1.36,.17],[59.7,1.31,.26],[59.9,1.24,.125],[58.8,1.19,.13],[59,1.12,.11],[60.5,1.19,.08],[60.5,1.13,.085],[61.3,1.3,.2],[61.4,1.49,.2],[62,1.51,.2],[62.3,1.43,.23],[62,1.215,.11],[61.6,1.14,.09],[61.2,1.035,.085],[61,.82,.055],[61.2,.71,.08],[62,.93,.065],[62.7,.83,.06],[63.8,1.545,.22],[64.9,1.78,.2],[64.9,1.6,.33],[65,1.635,.17],[65.3,1.53,.3],[64.1,1.42,.36],[65.3,1.375,.19],[63.7,1.25,.2],[65.3,1.165,.27],[63.8,1.15,.18],[63.3,.905,.14],[63.8,.795,.11],[64.9,.78,.15],[64.7,.62,.16],[65.5,1.08,.07],[65.9,.82,.12],[66.8,.955,.1],[67,.78,.11],[67.9,.87,.1],[67.9,.78,.06],
[67.7,1.37,.13],[68.5,1.31,.14],[68,1.215,.17],[69.7,1.065,.12],[69.1,1.13,.13],[68,1.09,.07],[70.2,1.165,.13],[70.7,1.2,.09],[70.2,1.29,.1],[70.5,1.5,.105],[71,1.41,.2],[71.5,1.3,.17],[72.1,1.49,.085],[71.7,1.34,.11],[72.4,.89,.16],[72.1,1.165,.17],[72.8,1.215,.255],[74.1,1.18,.17],[74.6,1.085,.24],[75.5,1.31,.33],[72.2,1.69,.125],[72.8,1.74,.08],[73.3,1.8,.1],[74.2,1.72,.1],[75,1.67,.1],[75.4,1.6,.09],[73.4,1.585,.125],[74.3,1.57,.1],[74.6,1.475,.09],[73,1.5,.07],[78.2,.87,.05]
];
const gPoints = [
[36.2,.26,.04],[37,.2,.045],[37.9,.22,.045],[38.8,.18,.04],[39.3,.28,.05],[40.2,.22,.05],[40.7,.28,.05],[41.3,.33,.06],[42,.2,.05],[42.3,.34,.05],[43.6,.28,.05],[44.6,.28,.05],[45.1,.22,.045],[45.6,.3,.05],[46.4,.25,.05],[46.9,.2,.05],[47.1,.32,.05],[48,.25,.05],[48.4,.2,.045],[49.4,.24,.04],[50,.18,.03],[50.6,.15,.03],[51,.22,.045],[52.1,.2,.05],[52.9,.16,.05],[53.2,.3,.05],[54.2,.22,.06],[54.8,.3,.06],[55,.15,.05],[55.4,.25,.06],[56.1,.2,.06],[56.4,.18,.05],[56.7,.27,.055],[57.3,.2,.05],[56.3,.05,.02],[55.3,.06,.015],[56.5,.1,.02],[57.3,.06,.02],[58,.2,.03],[43.6,.4,.05],[42.5,.38,.05],[41,.36,.05],[40,.32,.05],
[60.2,.8,.07],[60.7,.95,.075],[61,1,.08],[62.6,.9,.06],[63,1.05,.08],[62.1,.72,.06],[63.1,.65,.055],[64.2,.78,.12],[64.6,.66,.12],[58.9,1.02,.1],[56,.95,.07],[55.4,1.02,.07],[55.3,1.2,.09],[56.4,1.22,.1],[55.3,.9,.06],[54.6,1.15,.12],[58.2,1.22,.1],[60.1,1.2,.09],[60.6,1.25,.1],[61.7,1.2,.18],[63,1.1,.2],[64.5,1.1,.2],[65.6,1.0,.1],
[31.9,.23,.04],[32.5,.13,.045],[33.3,.295,.035],[34.4,.21,.035],[35,.3,.04],[35.8,.146,.05],[37.2,.765,.055],[37.3,.12,.05],[38,.3,.035],[38.5,.25,.04],[39.6,.2,.04],[39.8,.37,.05],[39.8,.04,.03],[40.8,.13,.05],[41.3,.51,.06],[41.7,.42,.05],[40.7,.41,.05],[41.7,.25,.07],[43,.45,.055],[43,.21,.045],[44,.52,.05],[44.1,.34,.05],[44.4,.21,.045],[45.3,1.07,.065],[44.9,.89,.06],[46.3,.13,.05],[46,.75,.055],[47.5,.77,.055],[47.5,.71,.06],[48,.51,.03],[47.5,.6,.055],[49,.59,.03],[49.6,.6,.055],[47.3,.32,.05],[47.7,.185,.05],[49,.28,.04],[49.9,.13,.025],[50.3,.225,.03],[50.5,.43,.03],[51.8,.51,.055],[51.4,.29,.05],[51.8,.13,.04],[53,.43,.035],[52.6,.42,.09],[52.2,.34,.06],[52.6,.26,.25],[53.9,.28,.04],[53.9,.13,.05],[54.5,.04,.015],[55.4,.355,.05],[55.6,.525,.06],[54.6,.2,.06],[56.5,.3,.05],[56.5,.43,.06],[57.1,.5,.055],[56,.09,.02],[57.1,.13,.02],[57.6,.25,.04],[57.8,.13,.025],[56.9,.015,.03],[58.2,.23,.03],[59,.485,.05],[59.8,.41,.055],[59.9,.32,.05],[61,.47,.055],[61.9,.54,.055],[62.3,.68,.05],[62.5,.43,.12],[63.8,.37,.11],[63.3,.28,.085],[64.6,.39,.12],[65,.315,.055],[64.8,.3,.08],[66.1,.315,.05],[65.9,.24,.05],[67,.185,.045],[67.5,.225,.05],[64.3,.465,.055],
[53.1,2.11,.12],[59.3,2.1,.095],[49.2,1.855,.13],[53.3,1.99,.075],[54,1.97,.105],[54.1,1.88,.09],[52.1,1.725,.1],[55.5,1.89,.09],[57.6,1.78,.08],[59,1.765,.11],[58.8,1.7,.07],[55.4,1.71,.115],[55.4,1.635,.085],[56.3,1.58,.09],[52.6,1.6,.09],[53.9,1.62,.11],[53.4,1.54,.07],[55.1,1.45,.09],[56.8,1.52,.11],[58.4,1.5,.05],[57.5,1.425,.07],[58,1.425,.06],[60.1,1.6,.085],[61,1.55,.08],[60.3,1.44,.06],[61,1.43,.08],[48.8,1.48,.06],[49.3,1.48,.06],[47.3,1.33,.085],[48.6,1.355,.135],[46.7,1.26,.12],[50.9,1.34,.06],[52.1,1.37,.08],[52.2,1.28,.125],[54.2,1.28,.165],[52.5,1.19,.06],[53.1,1.165,.065],[53.2,1.2,.125],[49.9,1.2,.15],[49.6,1.15,.09],[49.4,1.115,.125],[49.2,1.04,.115],[50,1,.12],[49.4,.89,.06],[46.7,1.05,.16],[47.8,.98,.11],[51.6,1.06,.135],[51.3,.9,.09],[51.3,.85,.07],[53.7,1,.07],[53.5,.995,.14],[54.4,1.015,.12],[54.4,.925,.16],
[57.5,1.37,.135],[58.1,1.31,.14],[56.4,1.36,.15],[56.8,1.2,.21],[55.9,1.11,.13],[57.1,1.125,.14],[57.8,1.14,.12],[58.2,1.09,.07],[59,1.22,.17],[59.3,1.165,.2],[59.7,1.4,.19],[59.7,1.35,.27],[59.6,1.06,.3],[59.5,.97,.14],[57.8,.93,.13],[57.3,.86,.08],[58.8,.855,.065],[56.5,1.05,.065],[57.1,.73,.06],[61,1.13,.17],[61.2,1.32,.19],[62,1.295,.195],[62.4,1.18,.23],[63.2,1.365,.2],[63.9,1.41,.13],[65.3,1.4,.19],[64.9,1.32,.355],[65.3,1.36,.32],[65.3,1.595,.22],[65.9,1.48,.06],[63.7,1.24,.19],[64,1.19,.36],[63.7,1.165,.19],[63.3,1,.24],[61.4,.85,.08],[61.6,.98,.09],[61.8,1.07,.08],[62.9,.85,.13],[63.5,.785,.15],[63.7,.55,.17],[64.8,.56,.14],[65,.71,.1],[65.3,.875,.1],[67,.73,.055],[67,.84,.1],[66.8,.97,.1],[67.9,.91,.08],[69.5,.975,.11],[68,.875,.07],[65.3,1.09,.17],[64.9,.96,.26],
[68.3,1.815,.135],[69.5,1.77,.17],[68,1.655,.16],[68,1.59,.16],[68.7,1.555,.16],[68.5,1.495,.155],[67.7,1.405,.13],[70.4,1.5,.105],[70.2,1.44,.1],[69.3,1.37,.09],[71,1.68,.2],[70,1.36,.2],[69.7,1.18,.125],[70.7,1.25,.075],[72.3,1.38,.16],[71.3,1.63,.12],[72,1.27,.22],[72.3,1.2,.14],[72.8,1.25,.27],[73.4,1.215,.14],[74.6,1.2,.23],[75.5,1.26,.33],[71.5,1.97,.125],[72.5,1.99,.08],[73.3,2.09,.085],[73.6,2.05,.085],[74.3,2.0,.08],[72.5,1.91,.085],[74.3,1.9,.1],[72.1,1.74,.09],[75,1.78,.09],[75.3,1.75,.08],[74.4,1.67,.1],[74.7,1.62,.09],[71.9,1.69,.07],[73,1.8,.2],[73.6,1.48,.28],[74.1,1.5,.07],[73.2,1.62,.1],[78.2,.84,.05]
];

/* ---------- helpers ---------- */
const NS = 'http://www.w3.org/2000/svg';
const layerA = document.getElementById('layerA');
const layerS = document.getElementById('layerScatter');
function mk(tag, attrs, parent) {
  const el = document.createElementNS(NS, tag);
  for (const k in attrs) el.setAttribute(k, attrs[k]);
  parent.appendChild(el);
  return el;
}
const jetStops = [[0,48,0,0],[.05,112,0,0],[.13,255,0,0],[.27,255,144,0],[.38,255,255,0],[.52,96,255,160],[.64,0,255,255],[.75,0,144,255],[.87,0,0,255],[1,0,0,96]];
function jet(f) {
  f = Math.max(0, Math.min(1, f));
  for (let i = 1; i < jetStops.length; i++) {
    if (f <= jetStops[i][0]) {
      const a = jetStops[i-1], b = jetStops[i], t = (f-a[0])/(b[0]-a[0]);
      return 'rgb(' + [1,2,3].map(j => Math.round(a[j]+(b[j]-a[j])*t)).join(',') + ')';
    }
  }
  return 'rgb(0,0,96)';
}

/* ---------- panel (a) ---------- */
const aLeft = 173.9, aRight = 581;
const aCenters = [241, 377.4, 513];
function drawSlopePanel(cfg) {
  const g = mk('g', {}, layerA);
  
  
  const yOf = v => cfg.y0 + (cfg.v0 - v) * cfg.scale;
  cfg.ticks.forEach(label => {
    const v = parseFloat(label);
    const t = mk('line', {x1: aLeft-20, x2: aLeft, y1: yOf(v), y2: yOf(v), stroke: '#000', 'stroke-width': 3}, g);
    
    
    const tx = mk('text', {x: aLeft-35, y: yOf(v)+12, 'text-anchor': 'end', 'font-size': 33}, g);
    
    
    tx.textContent = label;
  });
  aCenters.forEach((cx, i) => {
    const top = (i === 2 && cfg.shortThird) ? cfg.shortThird : cfg.top;
    const gl = mk('line', {x1: cx, x2: cx, y1: top, y2: cfg.bottom, stroke: '#a6a6a6', 'stroke-width': 3}, g);
    
    
  });
  [aLeft, aRight].forEach(x => {
    const sp = mk('line', {x1: x, x2: x, y1: cfg.top, y2: cfg.bottom, stroke: '#000', 'stroke-width': 3}, g);
    
    
  });
  const series = [
    {mean: cfg.night, hi: cfg.nightHi, lo: cfg.nightLo, color: '#0000ff', dx: -13.3, label: 'night-slope'},
    {mean: cfg.day, hi: cfg.dayHi, lo: cfg.dayLo, color: '#ff0000', dx: 13.7, label: 'day-slope'}
  ];
  series.forEach(s => {
    s.mean.forEach((v, i) => {
      const cx = aCenters[i] + s.dx;
      const path = mk('path', {d: 'M' + (cx-12) + ' ' + yOf(s.hi[i]) + 'H' + (cx+12) + 'M' + cx + ' ' + yOf(s.hi[i]) + 'V' + yOf(s.lo[i]) + 'M' + (cx-12) + ' ' + yOf(s.lo[i]) + 'H' + (cx+12), stroke: s.color, 'stroke-width': 5.6, 'stroke-linecap': 'round', fill: 'none'}, g);
      
      
      const dot = mk('ellipse', {cx: cx, cy: yOf(v), rx: 12, ry: 12, fill: s.color}, g);
      
      
    });
  });
}
drawSlopePanel({name:'ox-slope-panel', top:22.3, bottom:495.9, shortThird:148, y0:114.7, v0:.07, scale:7840, ticks:a1TickLabels, night:a1Night, nightHi:a1NightHi, nightLo:a1NightLo, day:a1Day, dayHi:a1DayHi, dayLo:a1DayLo});
drawSlopePanel({name:'sor-slope-panel', top:517.6, bottom:991, y0:590.9, v0:15, scale:36.4, ticks:a2TickLabels, night:a2Night, nightHi:a2NightHi, nightLo:a2NightLo, day:a2Day, dayHi:a2DayHi, dayLo:a2DayLo});
drawSlopePanel({name:'alwc-slope-panel', top:1015.8, bottom:1490.3, y0:1084.8, v0:1.2, scale:337.1, ticks:a3TickLabels, night:a3Night, nightHi:a3NightHi, nightLo:a3NightLo, day:a3Day, dayHi:a3DayHi, dayLo:a3DayLo});
drawSlopePanel({name:'nor-slope-panel', top:1514.7, bottom:1987.8, y0:1588, v0:15, scale:36.35, ticks:a4TickLabels, night:a4Night, nightHi:a4NightHi, nightLo:a4NightLo, day:a4Day, dayHi:a4DayHi, dayLo:a4DayLo});

/* bottom axis of panel (a) */
const aBase = mk('line', {x1: aLeft-1.5, x2: aRight+1.5, y1: 1988, y2: 1988, stroke: '#000', 'stroke-width': 3}, layerA);


const catEnds = [277, 425, 561];
slopeCategories.forEach((cat, i) => {
  const t = mk('line', {x1: aCenters[i], x2: aCenters[i], y1: 1988, y2: 2009, stroke: '#000', 'stroke-width': 3}, layerA);
  
  
  const l = mk('text', {transform: 'translate(' + catEnds[i] + ',2035) rotate(-30)', 'text-anchor': 'end', 'font-size': 34.5}, layerA);
  
  
  l.textContent = cat;
});

/* ---------- scatter panels ---------- */
const alwcTickLabels = ['0', '1', '2', '3'];
const alwcMinorTicks = [0.5, 1.5, 2.5];
const oxTickLabels = ['30', '40', '50', '60', '70', '80'];
const oxMinorTicks = [35, 45, 55, 65, 75];
const nh3BarLabels = ['6', '9', '12', '15'];
const sorBarLabels = ['0', '0.2', '0.4'];
const ooaTickLabels = ['0', '3', '6'];
const ooaMinorTicks = [1.5, 4.5];
const moTickLabels = ['0.0', '1.5', '3.0'];
const moMinorTicks = [0.75, 2.25];

function drawScatterPanel(p) {
  const W = 540.8, H = 540.6;
  const sx = v => p.left + (v - p.xMin) / (p.xMax - p.xMin) * W;
  const sy = v => p.top + H - (v - p.yMin) / (p.yMax - p.yMin) * H;
  const g = mk('g', {}, layerS);
  
  

  const marks = mk('g', {'clip-path': 'url(#' + p.clip + ')'}, g);
  
  
  if (p.rings) {
    p.rings.forEach(d => {
      const rOuter = 12.5 + (d[3] - 0.1) * 143;
      const c = mk('circle', {cx: sx(d[0]), cy: sy(d[1]), r: Math.max(rOuter - 3.3, 0.5), fill: 'none', stroke: jet((d[2] - 6) / 9), 'stroke-width': 6.6}, marks);
      
      
    });
  } else {
    p.dots.forEach(d => {
      const c = mk('circle', {cx: sx(d[0]), cy: sy(d[1]), r: 10, fill: jet(d[2] / 0.4)}, marks);
      
      
    });
  }
  /* trend line */
  const tr = p.trend;
  const x0 = p.xMin;
  const tl = mk('line', {x1: sx(x0), y1: sy(tr[0] + tr[1] * x0), x2: sx(tr[2]), y2: sy(tr[0] + tr[1] * tr[2]), stroke: p.trendColor, 'stroke-width': 7, 'stroke-linecap': 'round', 'stroke-dasharray': '32 54'}, marks);
  
  

  /* binned means */
  p.bins.forEach((b, i) => {
    const cx = sx(b);
    const e = mk('path', {d: 'M' + (cx-12) + ' ' + sy(p.hi[i]) + 'H' + (cx+12) + 'M' + cx + ' ' + sy(p.hi[i]) + 'V' + sy(p.lo[i]) + 'M' + (cx-12) + ' ' + sy(p.lo[i]) + 'H' + (cx+12), stroke: '#000', 'stroke-width': 6, 'stroke-linecap': 'round', fill: 'none'}, g);
    
    
    const m = mk('circle', {cx: cx, cy: sy(p.mean[i]), r: 14, fill: '#000'}, g);
    
    
  });

  /* frame */
  const frame = mk('rect', {x: p.left, y: p.top, width: W, height: H, fill: 'none', stroke: '#000', 'stroke-width': 2.8}, g);
  
  

  /* ticks */
  p.xLabels.forEach(label => {
    const v = parseFloat(label);
    const t = mk('line', {x1: sx(v), x2: sx(v), y1: p.top + H, y2: p.top + H + 13, stroke: '#000', 'stroke-width': 2.8}, g);
    
    
    const tx = mk('text', {x: sx(v), y: p.top + H + 48, 'text-anchor': 'middle', 'font-size': 32}, g);
    
    
    tx.textContent = label;
  });
  p.xMinor.forEach(v => {
    const t = mk('line', {x1: sx(v), x2: sx(v), y1: p.top + H, y2: p.top + H + 7, stroke: '#000', 'stroke-width': 2.8}, g);
    
    
  });
  p.yLabels.forEach(label => {
    const v = parseFloat(label);
    const t = mk('line', {x1: p.left - 13, x2: p.left, y1: sy(v), y2: sy(v), stroke: '#000', 'stroke-width': 2.8}, g);
    
    
    const tx = mk('text', {x: p.left - 20, y: sy(v) + 12, 'text-anchor': 'end', 'font-size': 32}, g);
    
    
    tx.textContent = label;
  });
  p.yMinor.forEach(v => {
    const t = mk('line', {x1: p.left - 7, x2: p.left, y1: sy(v), y2: sy(v), stroke: '#000', 'stroke-width': 2.8}, g);
    
    
  });

  /* colour bar */
  const bw = p.barRight - p.barLeft;
  const bar = mk('rect', {x: p.barLeft, y: p.barTop, width: bw, height: 22.8, fill: 'url(#jetGrad)', stroke: '#000', 'stroke-width': 2}, g);
  
  
  const nTicks = p.barLabels.length;
  p.barLabels.forEach((label, i) => {
    const x = p.barLeft + bw * i / (nTicks - 1);
    const t = mk('line', {x1: x, x2: x, y1: p.barTop + 22.8, y2: p.barTop + 31, stroke: '#000', 'stroke-width': 2}, g);
    
    
    const tx = mk('text', {x: x + 1, y: p.barTop + 60.5, 'text-anchor': 'middle', 'font-size': 27.5}, g);
    
    
    tx.textContent = label;
  });
}

const leftAlwc = 761.3, leftOx = 1491.5;
drawScatterPanel({name:'panel-b', clip:'clipB', left:leftAlwc, top:33.5, xMin:0, xMax:3, yMin:0, yMax:6, rings:bPoints, trend:bTrend, trendColor:'#ff0000', bins:alwcBins, mean:bMean, hi:bHi, lo:bLo, xLabels:alwcTickLabels, xMinor:alwcMinorTicks, yLabels:ooaTickLabels, yMinor:ooaMinorTicks, barLeft:790.7, barRight:1075.3, barTop:98.3, barLabels:nh3BarLabels});
drawScatterPanel({name:'panel-c', clip:'clipC', left:leftAlwc, top:724.5, xMin:0, xMax:3, yMin:0, yMax:3, rings:cPoints, trend:cTrend, trendColor:'#ff0000', bins:alwcBins, mean:cMean, hi:cHi, lo:cLo, xLabels:alwcTickLabels, xMinor:alwcMinorTicks, yLabels:moTickLabels, yMinor:moMinorTicks, barLeft:790.7, barRight:1075.3, barTop:797.3, barLabels:nh3BarLabels});
drawScatterPanel({name:'panel-d', clip:'clipD', left:leftAlwc, top:1414.5, xMin:0, xMax:3, yMin:0, yMax:3, rings:dPoints, trend:dTrend, trendColor:'#ff0000', bins:alwcBins, mean:dMean, hi:dHi, lo:dLo, xLabels:alwcTickLabels, xMinor:alwcMinorTicks, yLabels:moTickLabels, yMinor:moMinorTicks, barLeft:790.7, barRight:1075.3, barTop:1484, barLabels:nh3BarLabels});
drawScatterPanel({name:'panel-e', clip:'clipE', left:leftOx, top:33.5, xMin:30, xMax:80, yMin:0, yMax:6, dots:ePoints, trend:eTrend, trendColor:'#0000ff', bins:oxBins, mean:eMean, hi:eHi, lo:eLo, xLabels:oxTickLabels, xMinor:oxMinorTicks, yLabels:ooaTickLabels, yMinor:ooaMinorTicks, barLeft:1532.3, barRight:1817.3, barTop:96.8, barLabels:sorBarLabels});
drawScatterPanel({name:'panel-f', clip:'clipF', left:leftOx, top:724.5, xMin:30, xMax:80, yMin:0, yMax:3, dots:fPoints, trend:fTrend, trendColor:'#0000ff', bins:oxBins, mean:fMean, hi:fHi, lo:fLo, xLabels:oxTickLabels, xMinor:oxMinorTicks, yLabels:moTickLabels, yMinor:moMinorTicks, barLeft:1520.7, barRight:1805.7, barTop:796, barLabels:sorBarLabels});
drawScatterPanel({name:'panel-g', clip:'clipG', left:leftOx, top:1414.5, xMin:30, xMax:80, yMin:0, yMax:3, dots:gPoints, trend:gTrend, trendColor:'#0000ff', bins:oxBins, mean:gMean, hi:gHi, lo:gLo, xLabels:oxTickLabels, xMinor:oxMinorTicks, yLabels:moTickLabels, yMinor:moMinorTicks, barLeft:1509, barRight:1793.7, barTop:1482, barLabels:sorBarLabels});
</script>
</body>
</html>
